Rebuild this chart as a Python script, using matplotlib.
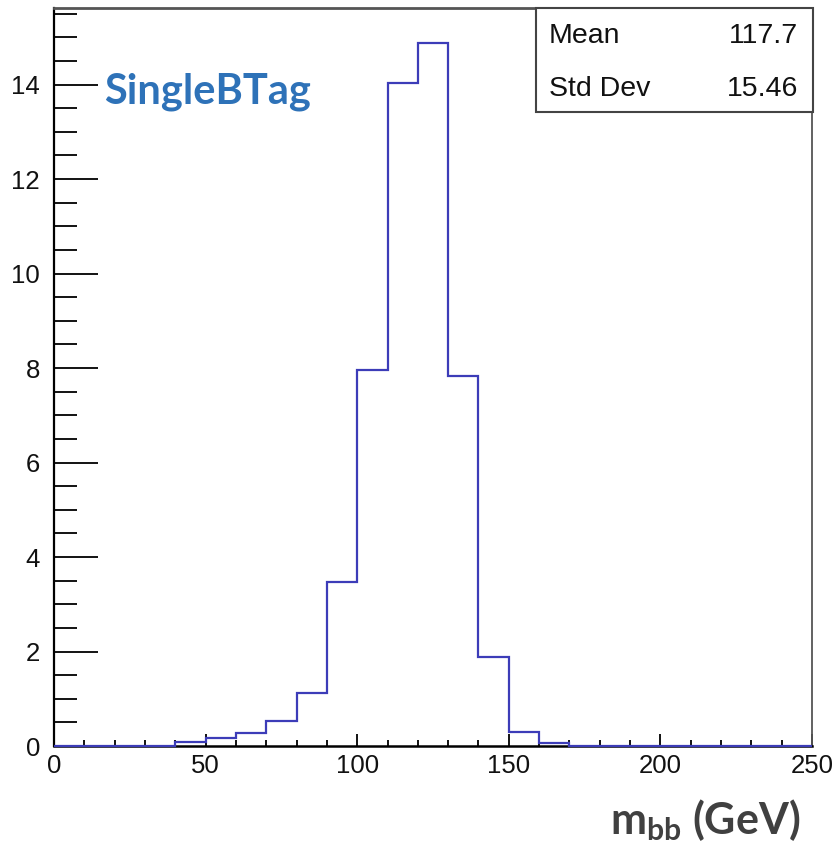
import numpy as np
import matplotlib
matplotlib.use("Agg")
import matplotlib.pyplot as plt
from matplotlib.patches import Rectangle
from matplotlib.ticker import MultipleLocator

bin_edges = list(range(0, 260, 10))
counts = [0, 0, 0, 0, 0.09, 0.16, 0.28, 0.53, 1.12, 3.47, 7.96, 14.03, 14.88,
          7.83, 1.89, 0.30, 0.06, 0, 0, 0, 0, 0, 0, 0, 0]
xticks = [0, 50, 100, 150, 200, 250]
yticks = [0, 2, 4, 6, 8, 10, 12, 14]
stats_names = ["Mean", "Std Dev"]
stats_values = ["117.7", "15.46"]
tag_text = "SingleBTag"

plt.rcParams['mathtext.fontset'] = 'custom'
plt.rcParams['mathtext.rm'] = 'Lato'
plt.rcParams['mathtext.bf'] = 'Lato:bold'

W, H = 838, 844
fig = plt.figure(figsize=(W / 100, H / 100), dpi=100)
x0, x1, ytop, ybot = 54, 812, 7.5, 746
ax = fig.add_axes([x0 / W, 1 - ybot / H, (x1 - x0) / W, (ybot - ytop) / H])

ax.stairs(counts, bin_edges, color='#3c3cb8', linewidth=1.6, clip_on=False, zorder=3)
ax.set_xlim(0, 250)
ax.set_ylim(0, 15.63)

ax.set_xticks(xticks)
ax.set_yticks(yticks)
ax.xaxis.set_minor_locator(MultipleLocator(10))
ax.yaxis.set_minor_locator(MultipleLocator(0.5))
ax.tick_params(axis='both', which='both', direction='in', top=False, right=False,
               color='black', width=1.3)
ax.tick_params(axis='y', which='major', length=31.5, pad=10)
ax.tick_params(axis='y', which='minor', length=16.5)
ax.tick_params(axis='x', which='major', length=8.5, pad=6)
ax.tick_params(axis='x', which='minor', length=4.3)
for lbl in ax.get_xticklabels() + ax.get_yticklabels():
    lbl.set_fontfamily('Liberation Sans')
    lbl.set_fontsize(18.5)
    lbl.set_color('#111111')

ax.spines['left'].set_linewidth(1.6)
ax.spines['bottom'].set_linewidth(1.8)
ax.spines['top'].set_linewidth(2.0)
ax.spines['top'].set_color('#555555')
ax.spines['right'].set_linewidth(1.3)
ax.spines['right'].set_color('#555555')

# stats box
bx0, bx1, by0, by1 = 536, 813, 8, 112
fig.patches.append(Rectangle((bx0 / W, 1 - by1 / H), (bx1 - bx0) / W, (by1 - by0) / H,
                             transform=fig.transFigure, facecolor='white',
                             edgecolor='#444444', linewidth=1.5, zorder=5))
rows_y = [36, 89]
for name, val, ry in zip(stats_names, stats_values, rows_y):
    fig.text(549 / W, 1 - ry / H, name, ha='left', va='center', fontsize=20.5,
             fontfamily='Liberation Sans', color='#111111', zorder=6)
    fig.text(798 / W, 1 - ry / H, val, ha='right', va='center', fontsize=20.5,
             fontfamily='Liberation Sans', color='#111111', zorder=6)

fig.text(104 / W, 1 - 92 / H, tag_text, ha='left', va='center', fontsize=30,
         fontfamily='Lato', fontweight='bold', color='#2e72b8')

fig.text(800 / W, 1 - 820 / H, r'$\mathbf{m_{bb}}$ (GeV)', ha='right', va='center',
         fontsize=31, fontfamily='Lato', fontweight='bold', color='#404040')

fig.savefig('out.png', dpi=100, facecolor='white')
